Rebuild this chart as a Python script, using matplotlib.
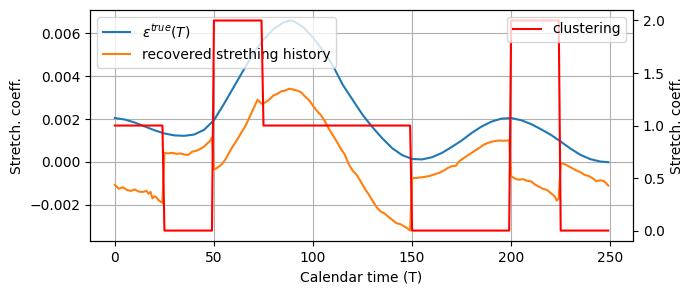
import numpy as np
import matplotlib
matplotlib.use('Agg')
import matplotlib.pyplot as plt

# true stretching coefficient, read every 5 units of calendar time
t_true = [0, 5, 10, 15, 20, 25, 30, 35, 40, 45, 50, 55, 60, 65, 70, 75, 80, 85, 88,
          90, 95, 100, 105, 110, 115, 120, 125, 130, 135, 140, 145, 150, 155, 160,
          165, 170, 175, 180, 185, 190, 195, 200, 205, 210, 215, 220, 225, 230,
          235, 240, 245, 249]
eps_true = [0.00205, 0.00198, 0.00184, 0.00166, 0.00148, 0.00133, 0.00124, 0.00122,
            0.00128, 0.0015, 0.00195, 0.0027, 0.0035, 0.0043, 0.0051, 0.0057,
            0.0062, 0.0065, 0.0066, 0.00658, 0.0063, 0.0058, 0.0052, 0.0045,
            0.0036, 0.0029, 0.0022, 0.00162, 0.0011, 0.00064, 0.00032, 0.00014,
            0.00012, 0.00022, 0.00042, 0.0007, 0.001, 0.00135, 0.00165, 0.00188,
            0.00202, 0.00205, 0.00195, 0.00177, 0.00153, 0.00127, 0.00095, 0.00062,
            0.00033, 0.00013, 0.00002, -0.00001]

# recovered stretching history
t_rec = [0, 2, 4, 6, 8, 10, 12, 14, 16, 17, 18, 19, 20, 21, 22, 23, 24,
         25, 27, 29, 31, 33, 35, 37, 39, 41, 43, 45, 47, 48, 49,
         50, 52, 54, 56, 58, 60, 62, 64, 66, 68, 70, 72, 74, 76, 78, 80, 82, 84,
         86, 88, 90, 92, 94, 96, 98, 100, 102, 104, 106, 108, 110, 112, 114, 116,
         118, 120, 122, 124, 126, 128, 130, 132, 134, 136, 138, 140, 142, 144,
         146, 148, 149,
         150, 152, 154, 156, 158, 160, 162, 164, 166, 168, 170, 172, 174, 176,
         178, 180, 182, 184, 186, 188, 190, 192, 194, 196, 198, 199,
         200, 202, 204, 206, 208, 210, 212, 214, 216, 218, 220, 222, 223, 224,
         225, 227, 229, 231, 233, 235, 237, 239, 241, 243, 245, 247, 249]
eps_rec = [-0.00107, -0.00125, -0.00118, -0.0013, -0.00135, -0.00128, -0.00138,
           -0.0014, -0.00135, -0.00148, -0.0014, -0.0017, -0.0016, -0.00165,
           -0.00178, -0.00185, -0.0019,
           0.00042, 0.0004, 0.00043, 0.00038, 0.0004, 0.00035, 0.00033, 0.00048,
           0.00052, 0.0006, 0.00072, 0.0009, 0.00098, 0.00115,
           -0.00036, -0.00025, -0.0001, 0.00015, 0.0005, 0.0008, 0.00108, 0.0014,
           0.0017, 0.0021, 0.0025, 0.0029, 0.00272, 0.00278, 0.00292, 0.0031,
           0.00318, 0.0033, 0.00333, 0.00342, 0.00338, 0.00333, 0.00325, 0.00305,
           0.00288, 0.00262, 0.00238, 0.00218, 0.0019, 0.00155, 0.00125, 0.00095,
           0.00062, 0.00035, -0.0001, -0.0004, -0.0006, -0.0009, -0.00122,
           -0.0015, -0.0018, -0.0021, -0.0023, -0.0024, -0.00255, -0.0027,
           -0.00285, -0.0029, -0.003, -0.00312, -0.0032,
           -0.00075, -0.00075, -0.00072, -0.0007, -0.00067, -0.00062, -0.00055,
           -0.0005, -0.0004, -0.00028, -0.0002, -0.00018, 0.00005, 0.00018,
           0.0003, 0.00042, 0.00055, 0.00066, 0.0008, 0.00088, 0.00094, 0.00098,
           0.001, 0.00099, 0.001, 0.00102,
           -0.00067, -0.00078, -0.00083, -0.0008, -0.00088, -0.0009, -0.00105,
           -0.00115, -0.00125, -0.0013, -0.00145, -0.0016, -0.0018, -0.0017,
           -0.00005, -0.0001, -0.0002, -0.0003, -0.0004, -0.00048, -0.0006,
           -0.00065, -0.00075, -0.0009, -0.00085, -0.0009, -0.0011]

# cluster labels per segment
seg_len = [25, 25, 25, 75, 50, 25, 25]
seg_label = [1, 0, 2, 1, 0, 2, 0]
clusters = np.repeat(seg_label, seg_len)
t_clust = np.arange(len(clusters))

fig, ax1 = plt.subplots(figsize=(6.94, 2.94), dpi=100)
fig.subplots_adjust(left=0.13, right=0.912, bottom=0.18, top=0.966)

ax1.plot(t_true, eps_true, label=r'$\varepsilon^{true}(T)$')
ax1.plot(t_rec, eps_rec, label='recovered strething history')
ax1.set_xlabel('Calendar time (T)')
ax1.set_ylabel('Stretch. coeff.')
ax1.grid(True)
ax1.legend(loc='upper left')

ax2 = ax1.twinx()
ax2.plot(t_clust, clusters, color='red', label='clustering')
ax2.set_ylabel('Stretch. coeff.')
ax2.legend(loc='upper right')

fig.savefig('out.png')
